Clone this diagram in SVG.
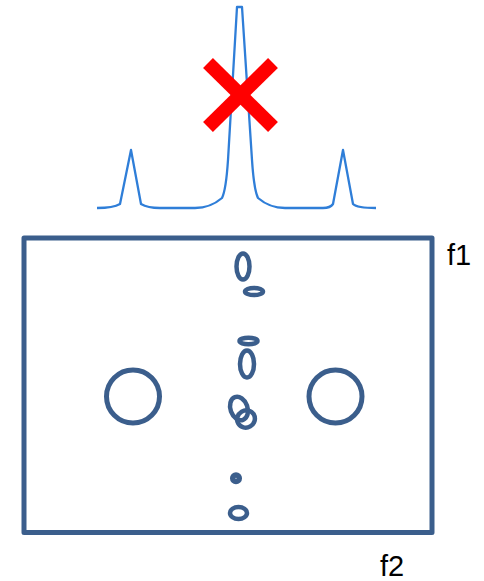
<svg xmlns="http://www.w3.org/2000/svg" width="484" height="581" viewBox="0 0 484 581">
<style>
.b{fill:none;stroke:#3B5E8C;stroke-width:4.5}
.lbl{font-family:"Liberation Sans",Arial,sans-serif;font-size:29px;fill:#000}
</style>
<rect width="484" height="581" fill="#fff"/>
<g id="spectrum">
<path d="M97,208 C106,208 115,207 120,204 L131,150 L141,204 C146,207 152,208 160,208 L195,208 C205,208 215,204 222,198 C226,190 227,175 228,160 L237,7 L242,7 L252,160 C253,175 255,192 258,198 C265,204 275,208 285,208 L323,208 C328,208 331,207 333,204 L343,150 L353,204 C356,207 365,208 376,208" fill="none" stroke="#2F7ED8" stroke-width="2.3" stroke-linejoin="round"/>
</g>
<g id="cross" stroke="#FF0000" stroke-width="14">
<line x1="208" y1="63" x2="273" y2="127"/>
<line x1="273" y1="63" x2="208" y2="127"/>
</g>
<g id="frame">
<rect x="24" y="238" width="408" height="294.5" fill="none" stroke="#3B5E8C" stroke-width="5" stroke-linejoin="round"/>
</g>
<g id="spots">
<ellipse class="b" cx="243" cy="266.5" rx="6.5" ry="13"/>
<ellipse class="b" cx="254" cy="291.5" rx="9" ry="3.5"/>
<ellipse class="b" cx="248.5" cy="341" rx="9" ry="3.3"/>
<ellipse class="b" cx="247" cy="364" rx="7" ry="13.5"/>
<ellipse class="b" cx="239" cy="408.5" rx="8.5" ry="12" transform="rotate(-20 239 408.5)"/>
<ellipse class="b" cx="246" cy="419" rx="9" ry="8.5" transform="rotate(-30 246 419)"/>
<circle cx="236" cy="478.3" r="3.3" fill="none" stroke="#3B5E8C" stroke-width="5.5"/>
<ellipse class="b" cx="238.5" cy="513" rx="8.5" ry="6"/>
</g>
<g id="holes">
<circle cx="133" cy="396.5" r="26.5" fill="none" stroke="#3B5E8C" stroke-width="5"/>
<circle cx="335.5" cy="396.5" r="26.5" fill="none" stroke="#3B5E8C" stroke-width="5"/>
</g>
<text class="lbl" x="447" y="265">f1</text>
<text class="lbl" x="380" y="576">f2</text>
</svg>
